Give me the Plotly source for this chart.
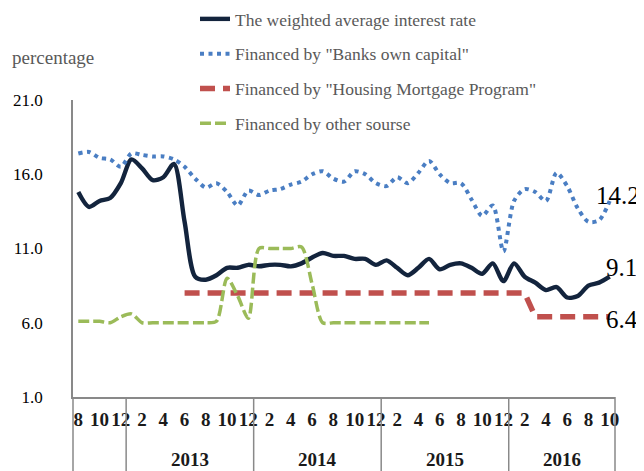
import plotly.graph_objects as go

# ---- data ----
periods = [
    "2012-08", "2012-09", "2012-10", "2012-11", "2012-12",
    "2013-01", "2013-02", "2013-03", "2013-04", "2013-05", "2013-06",
    "2013-07", "2013-08", "2013-09", "2013-10", "2013-11", "2013-12",
    "2014-01", "2014-02", "2014-03", "2014-04", "2014-05", "2014-06",
    "2014-07", "2014-08", "2014-09", "2014-10", "2014-11", "2014-12",
    "2015-01", "2015-02", "2015-03", "2015-04", "2015-05", "2015-06",
    "2015-07", "2015-08", "2015-09", "2015-10", "2015-11", "2015-12",
    "2016-01", "2016-02", "2016-03", "2016-04", "2016-05", "2016-06",
    "2016-07", "2016-08", "2016-09", "2016-10",
]

weighted_avg = [
    14.8, 13.8, 14.2, 14.4, 15.4,
    17.0, 16.4, 15.6, 15.8, 16.7, 12.8, 9.1, 8.9, 9.2, 9.7, 9.7, 9.9,
    9.8, 9.9, 9.9, 9.8, 10.0, 10.4, 10.7, 10.5, 10.5, 10.3, 10.3, 9.9,
    10.2, 9.7, 9.2, 9.7, 10.3, 9.6, 9.9, 10.0, 9.7, 9.3, 10.0, 8.8,
    10.0, 9.1, 8.7, 8.2, 8.4, 7.7, 7.8, 8.5, 8.7, 9.1,
]

banks_own_capital = [
    17.4, 17.5, 17.1, 17.0, 16.5,
    17.4, 17.3, 17.2, 17.2, 17.0, 16.5, 15.7, 15.1, 15.4, 14.8, 13.9, 14.9,
    14.6, 14.9, 15.0, 15.3, 15.5, 16.0, 16.2, 15.7, 15.5, 16.2, 16.0, 15.4,
    15.2, 15.8, 15.4, 16.1, 16.9, 16.0, 15.4, 15.4, 14.3, 13.2, 13.9, 10.8,
    14.2, 15.0, 14.8, 14.2, 16.1, 15.2, 13.7, 12.8, 12.9, 14.2,
]

housing_mortgage = [
    None, None, None, None, None,
    None, None, None, None, None, 8.0, 8.0, 8.0, 8.0, 8.0, 8.0, 8.0,
    8.0, 8.0, 8.0, 8.0, 8.0, 8.0, 8.0, 8.0, 8.0, 8.0, 8.0, 8.0,
    8.0, 8.0, 8.0, 8.0, 8.0, 8.0, 8.0, 8.0, 8.0, 8.0, 8.0, 8.0,
    8.0, 8.0, 6.4, 6.4, 6.4, 6.4, 6.4, 6.4, 6.4, 6.4,
]

other_source = [
    6.1, 6.1, 6.1, 6.0, 6.4,
    6.6, 6.0, 6.0, 6.0, 6.0, 6.0, 6.0, 6.0, 6.1, 9.0, 7.8, 6.3,
    11.0, 11.0, 11.0, 11.0, 11.1, 8.6, 6.0, 6.0, 6.0, 6.0, 6.0, 6.0,
    6.0, 6.0, 6.0, 6.0, 6.0, None, None, None, None, None, None, None,
    None, None, None, None, None, None, None, None, None, None,
]

series_names = [
    "The weighted average interest rate",
    'Financed by "Banks own capital"',
    'Financed by "Housing Mortgage Program"',
    "Financed by other sourse",
]

y_ticks = [1.0, 6.0, 11.0, 16.0, 21.0]

# ---- derived categories ----
years = [p[:4] for p in periods]
month_nums = [int(p[5:]) for p in periods]
xi = list(range(len(periods)))

FONT = "Liberation Serif"
GRAY = "#595959"
AXIS = "#898989"

fig = go.Figure()
fig.add_trace(go.Scatter(
    x=xi, y=weighted_avg, name=series_names[0], legendgroup="a",
    mode="lines", line=dict(color="#13243d", width=4.4, shape="spline", smoothing=0.8)))
fig.add_trace(go.Scatter(
    x=xi, y=banks_own_capital, name=series_names[1], legendgroup="b",
    mode="lines", line=dict(color="#4a7ec3", width=4, dash="4px,4.5px", shape="spline", smoothing=0.8)))
fig.add_trace(go.Scatter(
    x=xi, y=housing_mortgage, name=series_names[2], legendgroup="c",
    mode="lines", line=dict(color="#c0504d", width=5.5, dash="15px,8px")))
fig.add_trace(go.Scatter(
    x=xi, y=other_source, name=series_names[3], legendgroup="d",
    mode="lines", line=dict(color="#9bbb59", width=3.5, dash="11px,4px", shape="spline", smoothing=0.8)))

# tick labels every second month
tickvals = xi[::2]
ticktext = [str(month_nums[i]) for i in tickvals]

n = len(periods)
PW, PH = 542, 297          # plot-area size in px
X0, Y0 = 73, 397           # plot-area left / bottom on the page


def px_x(x):
    return (x - X0) / PW


def px_y(y):
    return (Y0 - y) / PH


shapes = []
# group separators (at year boundaries and both ends)
bounds = [-0.5] + [i - 0.5 for i in range(1, n) if years[i] != years[i - 1]] + [n - 0.5]
for b in bounds:
    shapes.append(dict(type="line", xref="paper", yref="paper",
                       x0=(b + 0.5) / n, x1=(b + 0.5) / n, y0=0, y1=-0.3,
                       line=dict(color=AXIS, width=1.5)))

annotations = []
# year labels (first partial year left blank as in the original)
uniq_years = []
for y in years:
    if y not in uniq_years:
        uniq_years.append(y)
for y in uniq_years[1:]:
    idx = [i for i in xi if years[i] == y]
    annotations.append(dict(x=(idx[0] + idx[-1]) / 2, xref="x", y=px_y(459), yref="paper",
                            xanchor="center", yanchor="middle",
                            text=y, showarrow=False,
                            font=dict(family=FONT, size=19, color="#1a1a1a", weight="bold")))

# y axis title
annotations.append(dict(x=px_x(10), xref="paper", y=px_y(58), yref="paper",
                        xanchor="left", yanchor="middle", text="percentage", showarrow=False,
                        font=dict(family=FONT, size=19, color=GRAY)))

# end-value labels
last = n - 1
for vals, xs, ys in [(banks_own_capital, 8, 5), (weighted_avg, 12, 9), (housing_mortgage, 12, -3)]:
    annotations.append(dict(x=last, y=vals[last], xref="x", yref="y",
                            text=f"{vals[last]:.1f}", showarrow=False,
                            xanchor="center", yanchor="middle", xshift=xs, yshift=ys,
                            font=dict(family=FONT, size=25, color="#000000")))

# the page body adds an 8px offset, so the figure is 8px smaller on each axis
fig.update_layout(
    width=636, height=463,
    margin=dict(l=65, r=29, t=92, b=74, autoexpand=False),
    paper_bgcolor="white", plot_bgcolor="white",
    font=dict(family=FONT, color=GRAY),
    showlegend=True,
    legend=dict(x=px_x(195), y=px_y(1), xanchor="left", yanchor="top",
                traceorder="grouped", tracegroupgap=9,
                font=dict(family=FONT, size=17.5, color=GRAY),
                bgcolor="rgba(0,0,0,0)"),
    xaxis=dict(range=[-0.5, n - 0.5], showgrid=False, zeroline=False,
               showline=True, linecolor=AXIS, linewidth=1.5,
               tickmode="array", tickvals=tickvals, ticktext=ticktext, ticks="",
               ticklabelstandoff=4, automargin=False,
               tickfont=dict(family=FONT, size=19, color="#1a1a1a", weight="bold")),
    yaxis=dict(range=[1, 21], showgrid=False, zeroline=False,
               showline=True, linecolor=AXIS, linewidth=1.5,
               tickmode="array", tickvals=y_ticks, tickformat=".1f", ticks="",
               ticklabelstandoff=25, automargin=False,
               tickfont=dict(family=FONT, size=17, color="#000000")),
    shapes=shapes, annotations=annotations,
)

fig.write_html("out.html")
